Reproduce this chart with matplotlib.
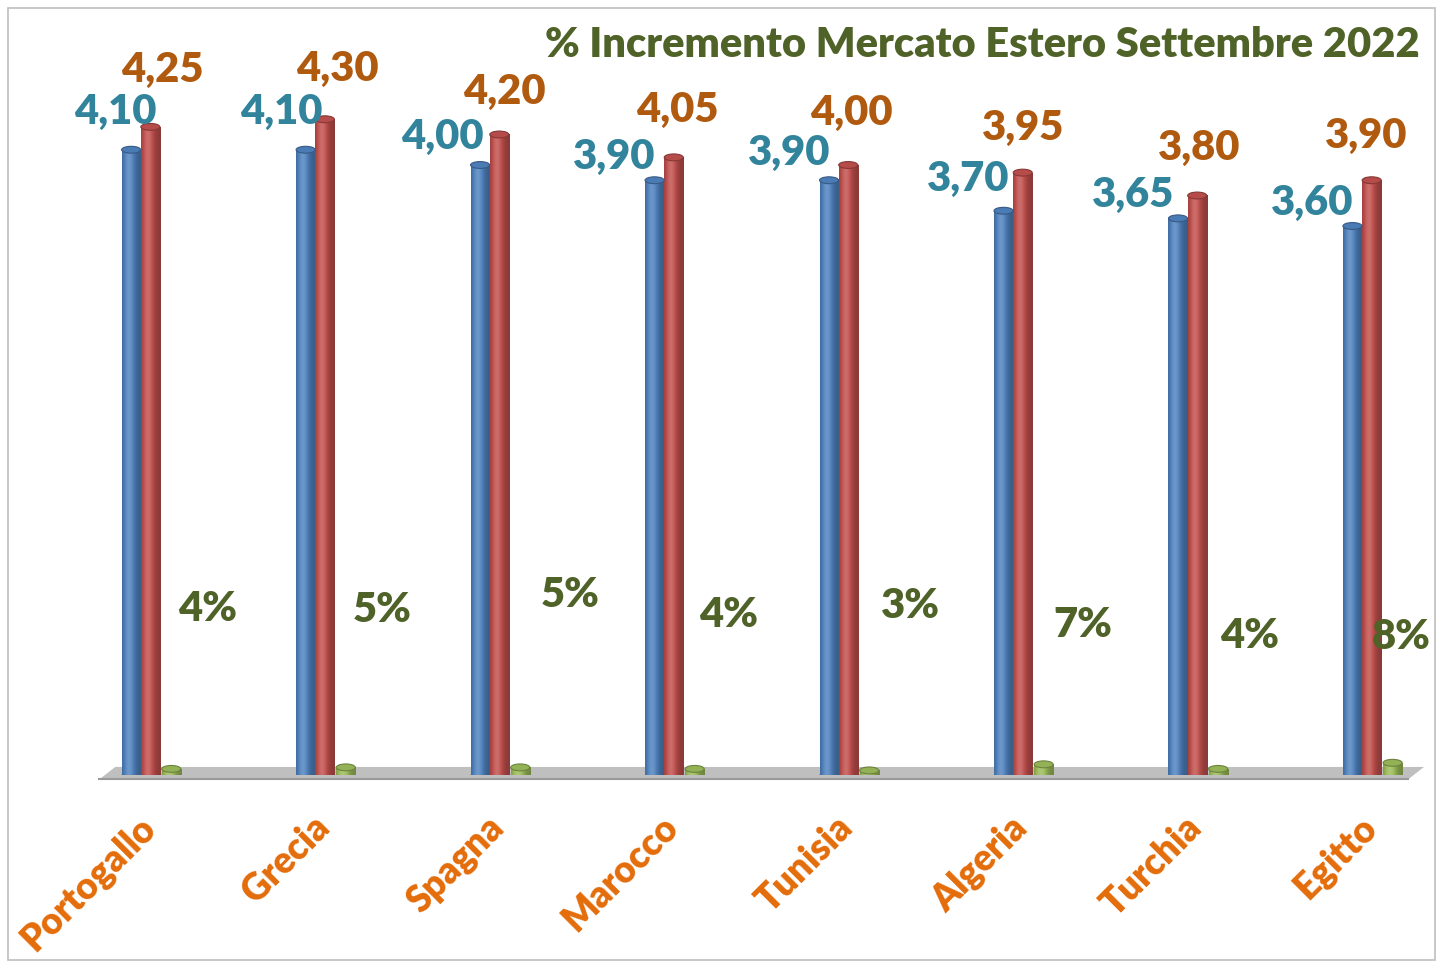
import matplotlib.pyplot as plt
import matplotlib.transforms as mtransforms
import numpy as np
from matplotlib.colors import to_rgb
from matplotlib.patches import Ellipse, Polygon, Rectangle

plt.rcParams['font.family'] = ['Lato', 'DejaVu Sans']

paesi = ["Portogallo", "Grecia", "Spagna", "Marocco", "Tunisia", "Algeria", "Turchia", "Egitto"]
valori_prima = [4.10, 4.10, 4.00, 3.90, 3.90, 3.70, 3.65, 3.60]
valori_dopo = [4.25, 4.30, 4.20, 4.05, 4.00, 3.95, 3.80, 3.90]
incremento = [4, 5, 5, 4, 3, 7, 4, 8]

# label offsets in pixels (layout only)
off_blu = [(-16, 38), (-24, 38), (-38, 28), (-40, 23), (-40, 27), (-35, 32), (-45, 23), (-40, 23)]
off_rosso = [(12, 57), (13, 50), (5, 43), (4, 47), (3, 52), (0, 45), (2, 48), (-5, 44)]
off_verde = [(36, 160), (36, 157), (50, 172), (34, 154), (41, 164), (39, 139), (31, 133), (9, 126)]

BLU = "#4F81BD"
ROSSO = "#C0504D"
VERDE = "#9BBB59"


def shade(color, f):
    r, g, b = to_rgb(color)
    if f >= 1:
        return tuple(c + (1 - c) * (f - 1) for c in (r, g, b))
    return tuple(c * f for c in (r, g, b))


def cylinder(ax, x, h, w, color):
    bar = ax.bar(x, h, w, color=color, linewidth=0, zorder=3)[0]
    t = np.linspace(0, 1, 64)
    prof = 0.72 + 0.45 * np.exp(-((t - 0.35) / 0.3) ** 2)
    grad = np.array([[shade(color, p) for p in prof]])
    grad = np.clip(grad, 0, 1)
    im = ax.imshow(grad, extent=(x - w / 2, x + w / 2, 0, h), aspect='auto',
                   interpolation='bicubic', zorder=3)
    im.set_clip_path(bar)
    eh = 0.045
    ax.add_patch(Ellipse((x, 0), w, eh, facecolor=shade(color, 0.75), linewidth=0, zorder=2.9))
    ax.add_patch(Ellipse((x, h), w, eh, facecolor=shade(color, 0.95),
                         edgecolor=shade(color, 0.7), linewidth=0.8, zorder=4))


fig = plt.figure(figsize=(14.43, 9.63), dpi=100)
fig.patches.append(Rectangle((8 / 1443, 3 / 963), 1427 / 1443, 952 / 963, transform=fig.transFigure,
                             fill=False, edgecolor="#BFBFBF", linewidth=1.2))

ax = fig.add_axes([98 / 1443, 188 / 963, 1326 / 1443, 732 / 963])
ax.set_xlim(-0.3, 7.3)
ax.set_ylim(0, 4.8)

# floor
ax.add_patch(Polygon([(0.001, -0.006), (0.013, 0.011), (1.0, 0.011), (0.988, -0.006)],
                     closed=True, transform=ax.transAxes, facecolor="#BFBFBF",
                     edgecolor="none", zorder=1, clip_on=False))
ax.plot([0.001, 0.988], [-0.006, -0.006], transform=ax.transAxes, color="#9A9A9A",
        linewidth=1.5, zorder=1, clip_on=False)

w = 0.109
x = np.arange(len(paesi))
for i in range(len(paesi)):
    cylinder(ax, x[i] - 0.11, valori_prima[i], w, BLU)
    cylinder(ax, x[i], valori_dopo[i], w, ROSSO)
    cylinder(ax, x[i] + 0.12, incremento[i] / 100, w, VERDE)

    ax.annotate(f"{valori_prima[i]:.2f}".replace(".", ","), (x[i] - 0.11, valori_prima[i]),
                xytext=off_blu[i], textcoords='offset pixels', ha='center', va='center',
                fontsize=30, fontweight='heavy', color="#31849B", zorder=6)
    ax.annotate(f"{valori_dopo[i]:.2f}".replace(".", ","), (x[i], valori_dopo[i]),
                xytext=off_rosso[i], textcoords='offset pixels', ha='center', va='center',
                fontsize=30, fontweight='heavy', color="#B05A10", zorder=6)
    ax.annotate(f"{incremento[i]}%", (x[i] + 0.12, incremento[i] / 100),
                xytext=off_verde[i], textcoords='offset pixels', ha='center', va='center',
                fontsize=30, fontweight='heavy', color="#4F6228", zorder=6)

ax.set_xticks(x, paesi, rotation=45, ha='right', rotation_mode='anchor',
              fontsize=26.5, fontweight='heavy', color="#E46C0A")
ax.tick_params(axis='x', length=0, pad=25)
shift = mtransforms.ScaledTranslation(-13 / 100, 0, fig.dpi_scale_trans)
for lab in ax.get_xticklabels():
    lab.set_transform(lab.get_transform() + shift)
ax.set_yticks([])
for s in ax.spines.values():
    s.set_visible(False)

fig.text(1420 / 1443, 1 - 45 / 963, "% Incremento Mercato Estero Settembre 2022", ha='right', va='center',
         fontsize=30, fontweight='heavy', color="#4F6228")

fig.savefig("out.png", dpi=100)
